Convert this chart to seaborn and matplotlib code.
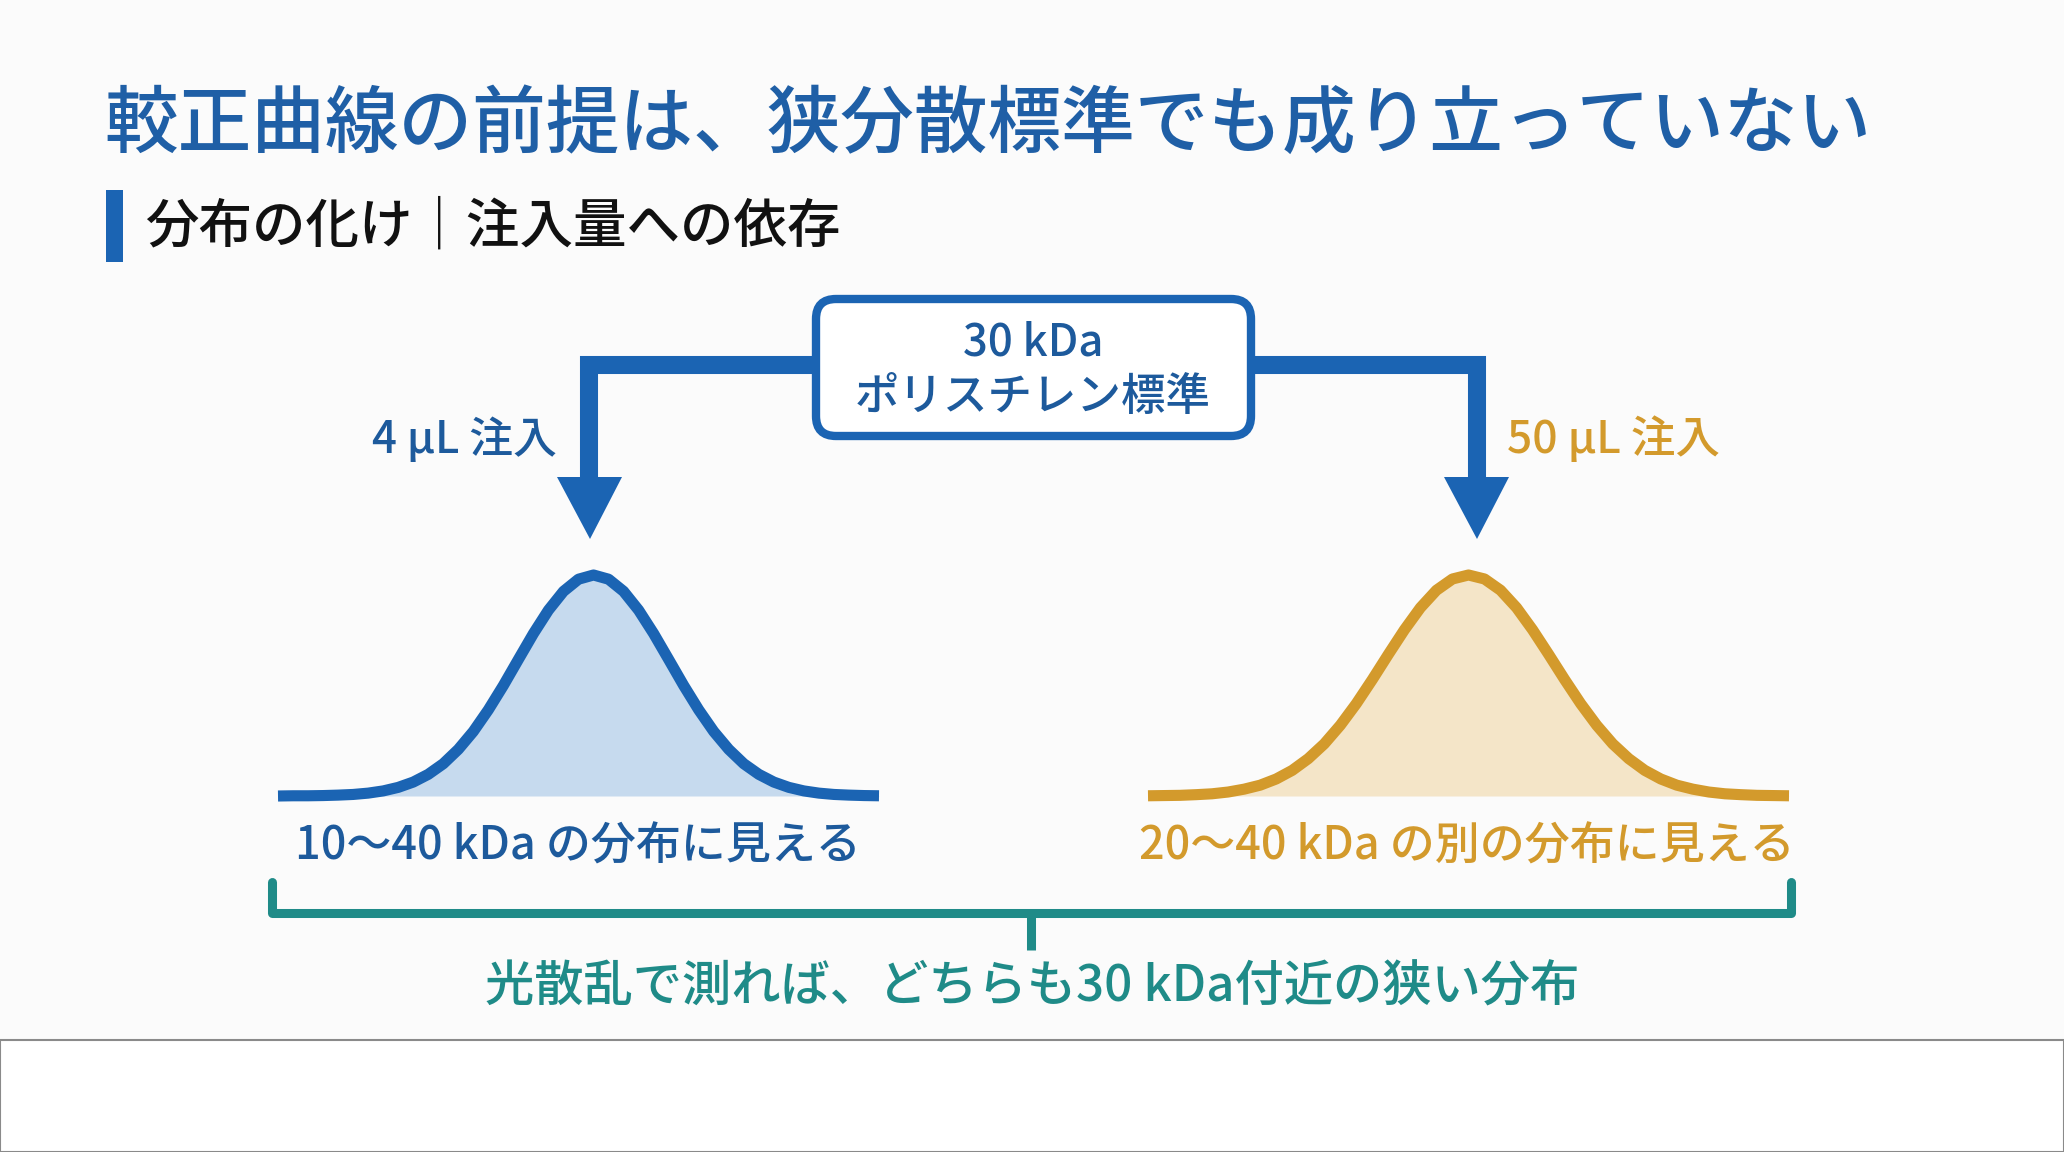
import matplotlib.pyplot as plt
import pandas as pd
import seaborn as sns
from matplotlib.patches import FancyBboxPatch, Rectangle, Polygon

# Chart text
title = "較正曲線の前提は、狭分散標準でも成り立っていない"
subtitle = "分布の化け｜注入量への依存"
standard_lines = ["30 kDa", "ポリスチレン標準"]
injections = ["4 µL 注入", "50 µL 注入"]
apparent = ["10〜40 kDa の分布に見える", "20〜40 kDa の別の分布に見える"]
conclusion = "光散乱で測れば、どちらも30 kDa付近の狭い分布"

# Chromatogram shapes (relative height vs. elution position)
elution = list(range(41))
small_inj = [0.000, 0.001, 0.001, 0.002, 0.004, 0.007, 0.013, 0.023, 0.039, 0.063,
             0.098, 0.146, 0.211, 0.292, 0.390, 0.500, 0.618, 0.735, 0.841, 0.926,
             0.981, 1.000, 0.981, 0.926, 0.841, 0.735, 0.618, 0.500, 0.390, 0.292,
             0.211, 0.146, 0.098, 0.063, 0.039, 0.023, 0.013, 0.007, 0.004, 0.002,
             0.001]
large_inj = [0.001, 0.002, 0.003, 0.006, 0.010, 0.018, 0.031, 0.049, 0.077, 0.116,
             0.169, 0.236, 0.320, 0.418, 0.527, 0.641, 0.752, 0.852, 0.931, 0.982,
             1.000, 0.982, 0.931, 0.852, 0.752, 0.641, 0.527, 0.418, 0.320, 0.236,
             0.169, 0.116, 0.077, 0.049, 0.031, 0.018, 0.010, 0.006, 0.003, 0.002,
             0.001]

BLUE = "#1b64b3"
TEXT_BLUE = "#1d5a9c"
TITLE_BLUE = "#1f5fa6"
GOLD = "#d39a2c"
TEAL = "#1f8b88"
W, H = 2064, 1152

sns.set_theme(style="white")
plt.rcParams['font.family'] = ['Noto Sans CJK JP', 'DejaVu Sans']

fig = plt.figure(figsize=(W / 100, H / 100), dpi=100)
fig.patch.set_facecolor("#fbfbfb")

# Layout axes in pixel units (y downwards)
ax = fig.add_axes([0, 0, 1, 1])
ax.set_xlim(0, W)
ax.set_ylim(H, 0)
ax.axis("off")

# Header
ax.text(104, 126, title, fontsize=53, color=TITLE_BLUE, fontweight="medium",
        ha="left", va="center")
ax.add_patch(Rectangle((106, 190), 17, 72, color=BLUE, lw=0))
ax.text(145, 228, subtitle, fontsize=38.5, color="#111111", fontweight="medium",
        ha="left", va="center")

# Connectors from the standard to the two injections
ax.plot([812, 589, 589], [364.5, 364.5, 482], color=BLUE, lw=13,
        solid_joinstyle="miter", solid_capstyle="butt")
ax.plot([1255, 1477, 1477], [364.5, 364.5, 482], color=BLUE, lw=13,
        solid_joinstyle="miter", solid_capstyle="butt")
ax.add_patch(Polygon([(557, 477), (622, 477), (590, 539)], closed=True, color=BLUE, lw=0))
ax.add_patch(Polygon([(1444, 477), (1509, 477), (1477, 539)], closed=True, color=BLUE, lw=0))

# Standard box
ax.add_patch(FancyBboxPatch((816, 299), 435, 137, boxstyle="round,pad=0,rounding_size=20",
                            facecolor="white", edgecolor=BLUE, lw=6))
ax.text(1033, 343, standard_lines[0], fontsize=31.5, color=TEXT_BLUE, fontweight="medium",
        ha="center", va="center")
ax.text(1033, 397, standard_lines[1], fontsize=32, color=TEXT_BLUE, fontweight="medium",
        ha="center", va="center")

ax.text(557, 440, injections[0], fontsize=31.5, color=TEXT_BLUE, fontweight="medium",
        ha="right", va="center")
ax.text(1507, 440, injections[1], fontsize=32, color=GOLD, fontweight="medium",
        ha="left", va="center")

# Chromatograms
peaks = pd.DataFrame({"elution": elution, "small": small_inj, "large": large_inj})
specs = [("small", 278, 879, BLUE, "#c6daee"), ("large", 1148, 1789, GOLD, "#f4e5c8")]
for col, x0, x1, line_c, fill_c in specs:
    pax = fig.add_axes([x0 / W, (H - 796) / H, (x1 - x0) / W, (796 - 575) / H])
    pax.fill_between(peaks["elution"], 0, peaks[col], color=fill_c, lw=0)
    sns.lineplot(data=peaks, x="elution", y=col, ax=pax, color=line_c, lw=8,
                 solid_joinstyle="round", solid_capstyle="butt")
    pax.set_xlim(peaks["elution"].min(), peaks["elution"].max())
    pax.set_ylim(0, 1)
    pax.axis("off")
    for line in pax.lines:
        line.set_clip_on(False)

ax.text(578, 846, apparent[0], fontsize=32.4, color=TEXT_BLUE, fontweight="medium",
        ha="center", va="center")
ax.text(1467, 846, apparent[1], fontsize=32.4, color=GOLD, fontweight="medium",
        ha="center", va="center")

# Bracket
ax.plot([272, 272, 1791, 1791], [882, 913, 913, 882], color=TEAL, lw=6.5,
        solid_joinstyle="round", solid_capstyle="round")
ax.plot([1031, 1031], [913, 950], color=TEAL, lw=6.5, solid_capstyle="butt")
ax.text(1032, 987, conclusion, fontsize=35.5, color=TEAL, fontweight="medium",
        ha="center", va="center")

# Empty footer panel
ax.add_patch(Rectangle((0, 1040), W, 112, facecolor="white", edgecolor="#8a8a8a", lw=1.5))

fig.savefig("out.png", dpi=100, facecolor=fig.get_facecolor())
